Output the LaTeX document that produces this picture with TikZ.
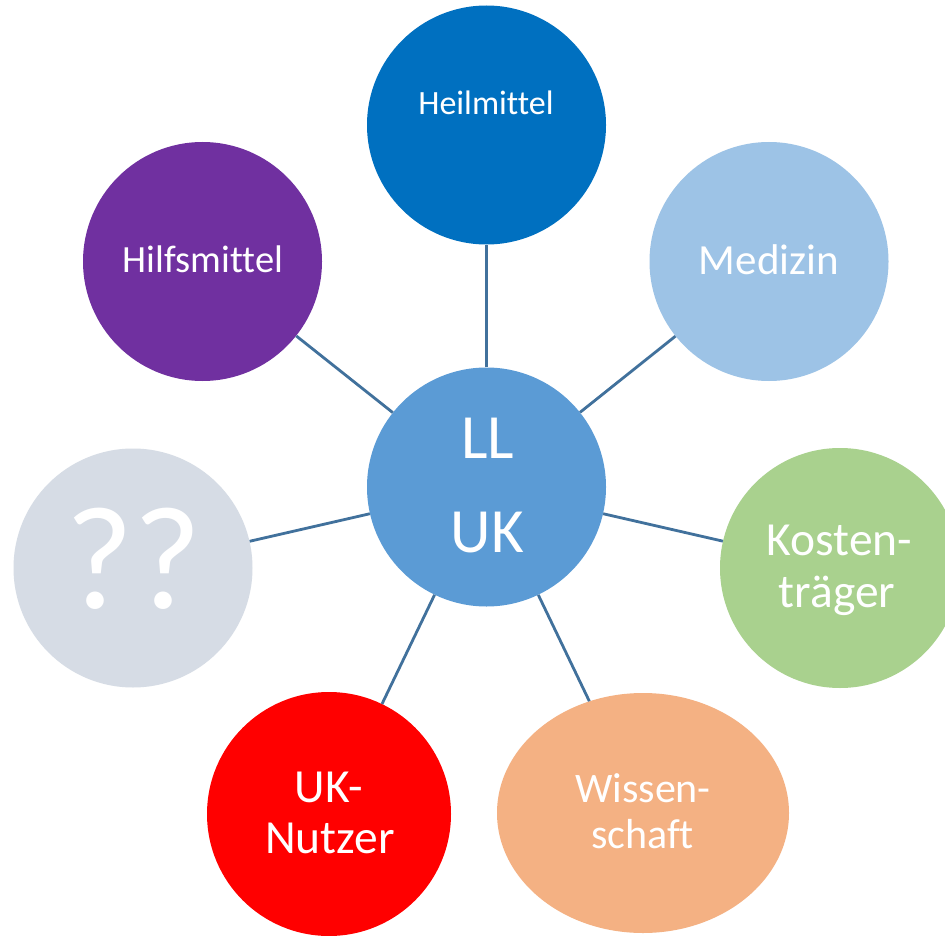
\documentclass[tikz,border=0pt]{standalone}
\usepackage{fontspec}
\setmainfont{Carlito}[Ligatures=NoCommon]
\usetikzlibrary{shapes.geometric}
\definecolor{cHeil}{HTML}{0070C0}
\definecolor{cMed}{HTML}{9DC3E6}
\definecolor{cHilf}{HTML}{7030A0}
\definecolor{cCenter}{HTML}{5B9BD5}
\definecolor{cKost}{HTML}{A9D18E}
\definecolor{cWiss}{HTML}{F4B183}
\definecolor{cUK}{HTML}{FF0000}
\definecolor{cQ}{HTML}{D6DCE5}
\definecolor{cLine}{HTML}{41719C}
\tikzset{
  bubble/.style={circle, minimum size=239pt, inner sep=0pt, draw=none},
  lbl/.style={anchor=base, text=white, inner sep=0pt},
  conn/.style={draw=cLine, line width=2.8pt},
}
\begin{document}
\begin{tikzpicture}[x=1pt,y=-1pt]
\clip (0,0) rectangle (945,936);
\fill[white] (0,0) rectangle (945,936);
% shapes
\node[bubble, fill=cCenter] (c) at (486.5,487) {};
\node[bubble, fill=cHeil] (h) at (486.5,125) {};
\node[bubble, fill=cMed] (m) at (769,261.5) {};
\node[bubble, fill=cHilf] (hi) at (202.5,261.5) {};
\node[bubble, fill=cKost, minimum size=240pt] (k) at (840,568) {};
\node[bubble, fill=cQ] (q) at (133,568) {};
\node[bubble, fill=cUK, minimum size=244pt] (u) at (329,814) {};
\node[ellipse, inner sep=0pt, minimum width=292pt, minimum height=240pt, fill=cWiss] (w) at (643,813) {};
% connectors
\draw[conn] (c) -- (h);
\draw[conn] (c) -- (m);
\draw[conn] (c) -- (hi);
\draw[conn] (c) -- (k);
\draw[conn] (c) -- (q);
\draw[conn] (c) -- (u);
\draw[conn] (c) -- (w);
% labels
\node[lbl, font=\fontsize{34}{40}\selectfont] (th) at (486,115) {Heilmittel};
\node[lbl, font=\fontsize{43}{50}\selectfont] (tm) at (769,274) {Medizin};
\node[lbl, font=\fontsize{38.5}{45}\selectfont] (thi) at (203,272) {Hilfsmittel};
\node[lbl, font=\fontsize{63}{70}\selectfont] (tc1) at (487.5,458) {LL};
\node[lbl, font=\fontsize{63}{70}\selectfont] (tc2) at (487.5,552) {UK};
\node[lbl, font=\fontsize{47.5}{52}\selectfont] (tk1) at (839.5,555) {Kosten-};
\node[lbl, font=\fontsize{47.5}{52}\selectfont] (tk2) at (837,607) {träger};
\node[lbl, font=\fontsize{42}{47}\selectfont] (tw1) at (643,802) {Wissen-};
\node[lbl, font=\fontsize{42}{47}\selectfont] (tw2) at (642.5,848) {schaft};
\node[lbl, font=\fontsize{47.5}{52}\selectfont] (tu1) at (329,802) {UK-};
\node[lbl, font=\fontsize{47.5}{52}\selectfont] (tu2) at (330,853) {Nutzer};
\node[lbl, font=\fontsize{147}{150}\selectfont] (tq) at (134,608) {??};
\end{tikzpicture}
\end{document}
